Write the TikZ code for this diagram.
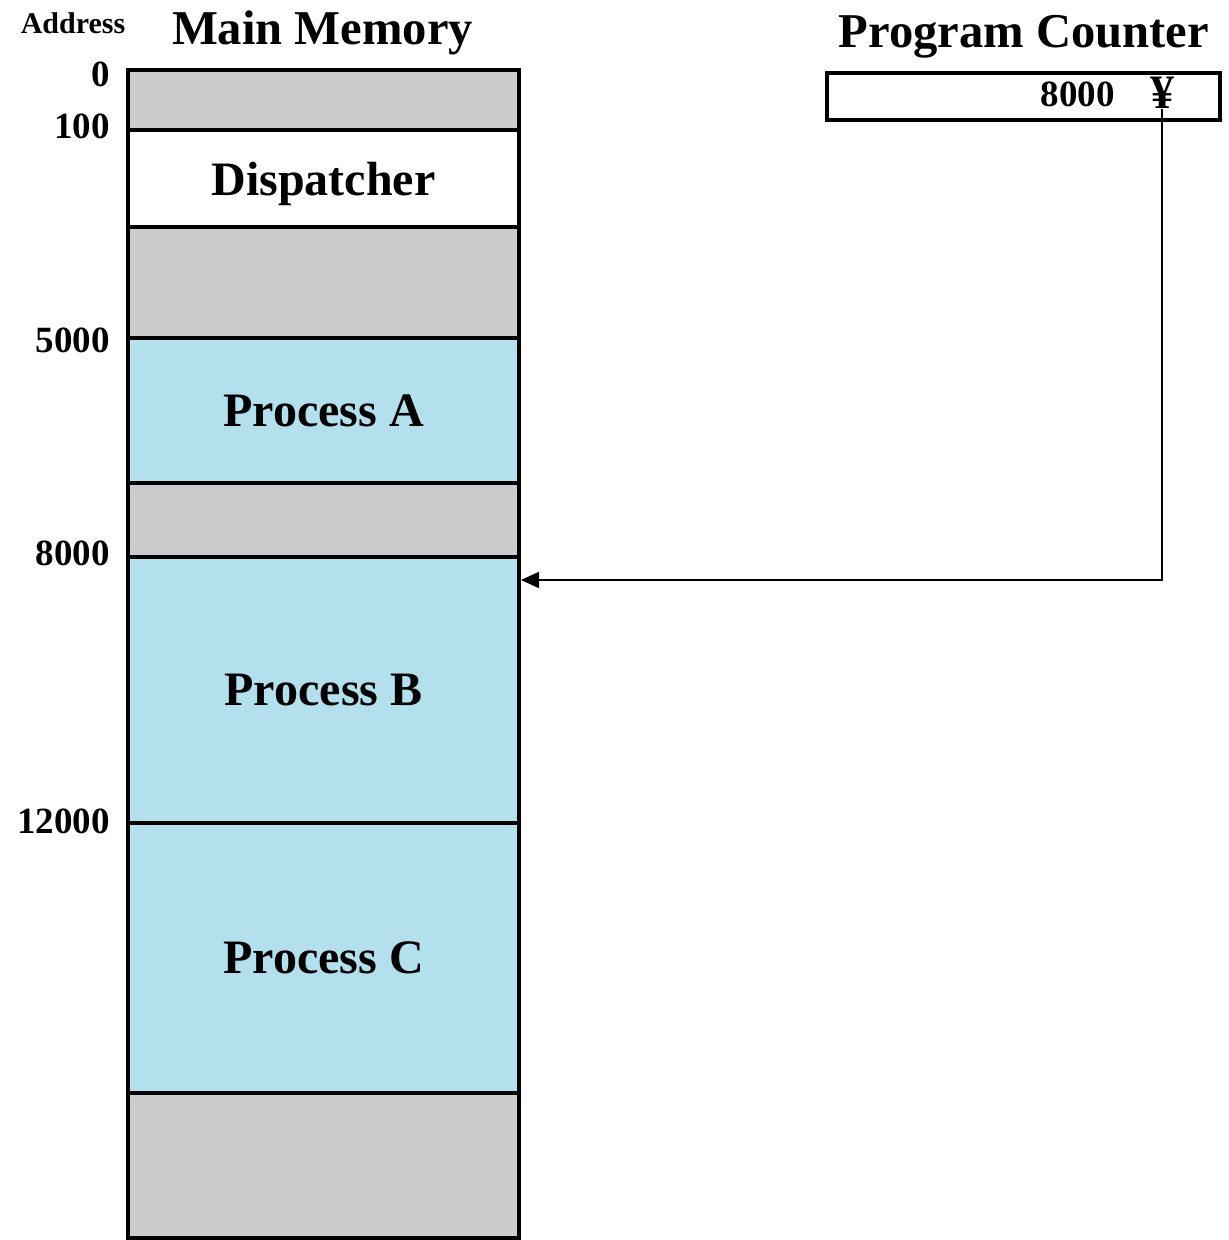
\documentclass[tikz,border=0pt]{standalone}
\usepackage{fontspec}
\setmainfont{Liberation Serif}
\usetikzlibrary{arrows.meta}
\definecolor{memgray}{HTML}{CCCCCC}
\definecolor{memblue}{HTML}{B3E0EC}
\tikzset{
  blk/.style={draw=black, line width=2pt, inner sep=0pt, outer sep=0pt,
    minimum width=195.5pt, font=\fontsize{24}{28}\selectfont\bfseries},
  graybk/.style={blk, fill=memgray},
  bluebk/.style={blk, fill=memblue},
  whitebk/.style={blk, fill=white},
  title/.style={anchor=base, inner sep=0pt, font=\fontsize{24.3}{28}\selectfont\bfseries},
  addr/.style={anchor=east, inner sep=0pt, font=\fontsize{18.5}{22}\selectfont\bfseries},
  conn/.style={line width=1pt, -{Triangle[length=9pt,width=8pt]}}
}
\begin{document}
\begin{tikzpicture}[x=0.5pt,y=-0.5pt]
\useasboundingbox (0,0) rectangle (1229,1240);
% titles
\node[anchor=center, inner sep=0pt, font=\fontsize{15}{17}\selectfont\bfseries] (addrtitle) at (73,23) {Address};
\node[title] (mmtitle) at (322.5,45) {Main Memory};
\node[title] (pctitle) at (1024,48) {Program Counter};
% memory blocks
\node[graybk, minimum height=30pt] (g0) at (323.5,100) {};
\node[whitebk, minimum height=48.5pt, text depth=0pt] (disp) at (323.5,178.5) {Dispatcher};
\node[graybk, minimum height=55.5pt] (g1) at (323.5,282.5) {};
\node[bluebk, minimum height=72.5pt] (pa) at (323.5,410.5) {Process A};
\node[graybk, minimum height=37pt] (g2) at (323.5,520) {};
\node[bluebk, minimum height=133pt] (pb) at (323.5,690) {Process B};
\node[bluebk, minimum height=135pt] (pc) at (323.5,958) {Process C};
\node[graybk, minimum height=72.5pt] (g3) at (323.5,1165.5) {};
% addresses
\node[addr] (a0) at (110,74) {0};
\node[addr] (a100) at (110,126) {100};
\node[addr] (a5000) at (110,340) {5000};
\node[addr] (a8000) at (110,553) {8000};
\node[addr] (a12000) at (110,821) {12000};
% program counter
\node[draw=black, line width=2pt, inner sep=0pt, minimum width=196.5pt, minimum height=23.5pt] (pcbox) at (1023.5,96.5) {};
\node[anchor=base east, inner sep=0pt, font=\fontsize{18.5}{22}\selectfont\bfseries] (pcval) at (1115,107) {8000};
\node[anchor=base, inner sep=0pt, font=\fontsize{24}{26}\selectfont\bfseries] (yen) at (1162,109) {¥};
% connector
\coordinate (tgt) at (521,580);
\draw[conn] (yen.base) -- (1162,580) -- (tgt);
\end{tikzpicture}
\end{document}
